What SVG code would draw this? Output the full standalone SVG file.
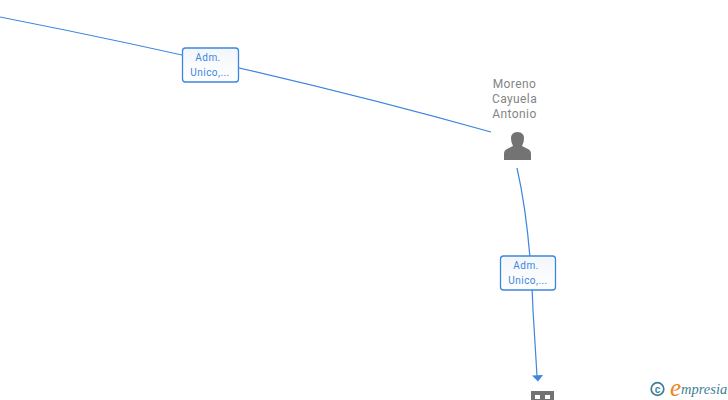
<svg xmlns="http://www.w3.org/2000/svg" width="728" height="400" viewBox="0 0 728 400">
<style>
.edge{fill:none;stroke:#3c86e0;stroke-width:1.2}
.box{fill:url(#g);stroke:#3c86e0;stroke-width:1.3}
.lab{font:10px Roboto,"Liberation Sans",sans-serif;fill:#3c86e0;text-anchor:middle;letter-spacing:.45px}
.name{font:12px Roboto,"Liberation Sans",sans-serif;fill:#858585;text-anchor:middle;letter-spacing:.4px}
.ic{fill:#737373}
</style>
<defs>
<linearGradient id="g" x1="0" y1="0" x2="0" y2="1"><stop offset="0" stop-color="#f3f6fa"/><stop offset="1" stop-color="#ffffff"/></linearGradient>
</defs>
<rect width="728" height="400" fill="#fff"/>
<g id="connectors">
<path class="edge" d="M0 17Q270 70 491 132"/>
<path class="edge" d="M517 168Q530 225 533 310L537 376"/>
<path fill="#3c86e0" d="M532 375.500L543 375L538 381.500Z"/>
</g>
<g id="edge-label-1">
<rect class="box" x="182.500" y="48" width="56" height="34" rx="3"/>
<text class="lab" x="208" y="61">Adm.</text>
<text class="lab" x="210" y="76">Unico,...</text>
</g>
<g id="edge-label-2">
<rect class="box" x="500.500" y="256" width="55" height="34" rx="3"/>
<text class="lab" x="526" y="269">Adm.</text>
<text class="lab" x="528" y="284">Unico,...</text>
</g>
<g id="person">
<text class="name" x="514.500" y="88">Moreno</text>
<text class="name" x="514.500" y="103">Cayuela</text>
<text class="name" x="514.500" y="118">Antonio</text>
<path class="ic" d="M504 160V153.500Q504 150 508 148.500L513 146Q511 142.500 511 138.500Q511 132 517.500 132Q524 132 524 138.500Q524 142.500 522 146L527 148.500Q531 150 531 153.500V160Z"/>
</g>
<g id="company">
<path class="ic" fill-rule="evenodd" d="M531 391H554V400H531ZM535 395V399H540V395ZM545 395V399H550V395Z"/>
</g>
<g id="logo">
<circle cx="657.500" cy="389" r="6.300" fill="none" stroke="#3f7f96" stroke-width="1.700"/>
<text x="657.500" y="392.500" font-family="Liberation Sans,sans-serif" font-size="10" font-weight="bold" fill="#3f7f96" text-anchor="middle">c</text>
<text x="670" y="396" font-family="Liberation Serif,serif" font-style="italic" font-size="25" fill="#ee8420">e</text>
<text x="681" y="394" font-family="Liberation Serif,serif" font-style="italic" font-size="14.500" fill="#3f7f96">mpresia</text>
</g>
</svg>
